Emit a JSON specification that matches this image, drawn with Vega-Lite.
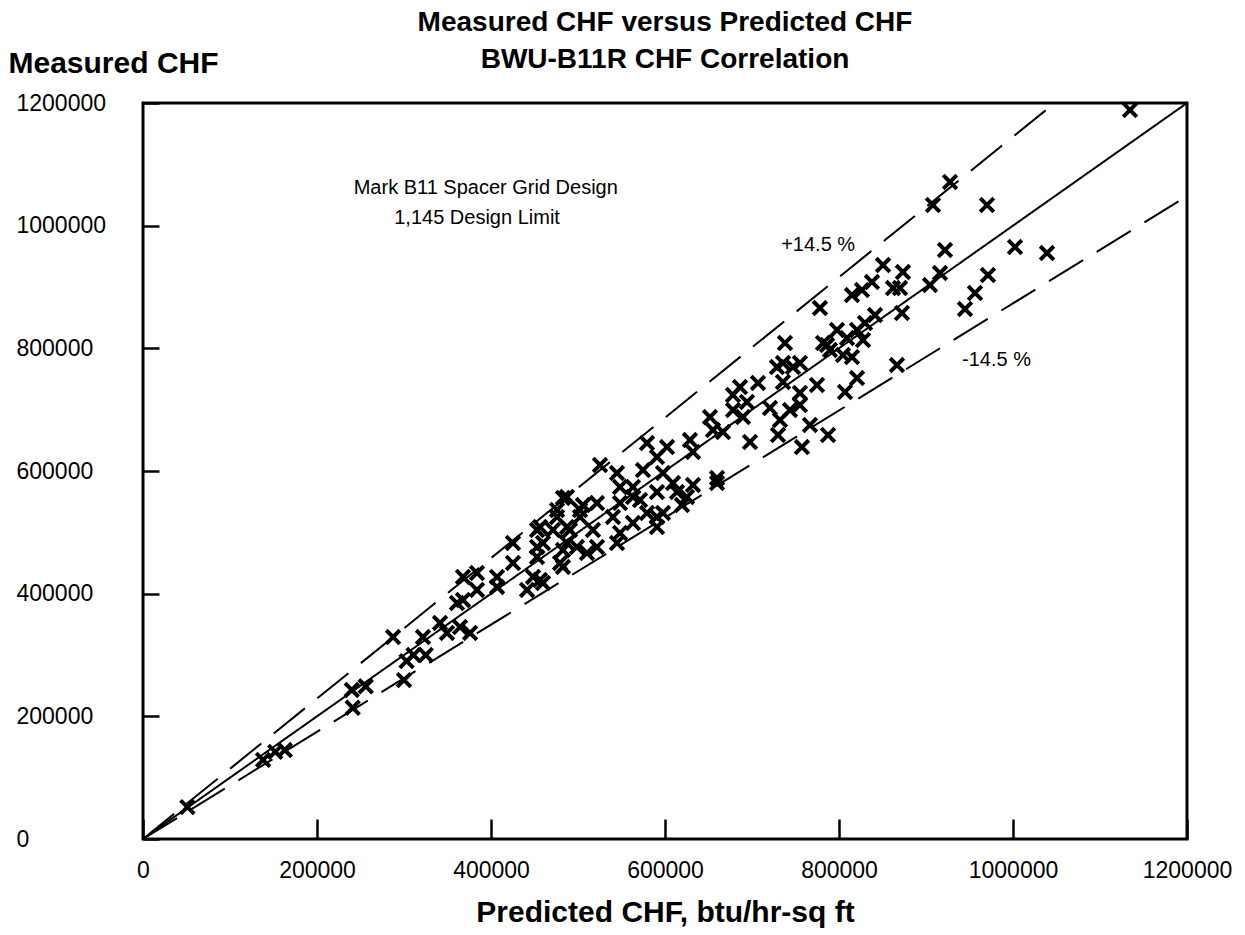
{
  "$schema": "https://vega.github.io/schema/vega-lite/v6.json",
  "width": 1044,
  "height": 736,
  "autosize": {"type": "none"},
  "padding": {"left": 143, "top": 103, "right": 58, "bottom": 96},
  "background": "white",
  "config": {
    "font": "Liberation Sans",
    "view": {"stroke": "black", "strokeWidth": 3},
    "axis": {"labelColor": "black", "titleColor": "black", "tickColor": "black", "grid": false, "domain": false, "labelFlush": false, "labelOverlap": false}
  },
  "title": {
    "text": ["Measured CHF versus Predicted CHF", "BWU-B11R CHF Correlation"],
    "fontSize": 28,
    "fontWeight": "bold",
    "font": "Liberation Sans",
    "color": "black",
    "lineHeight": 37,
    "anchor": "middle",
    "offset": -26
  },
  "layer": [
    {
      "data": {"values": [
        {"line": "1:1", "x": 0, "y": 0},
        {"line": "1:1", "x": 1200000, "y": 1200000},
        {"line": "+14.5%", "x": 0, "y": 0},
        {"line": "+14.5%", "x": 1048035, "y": 1200000},
        {"line": "-14.5%", "x": 0, "y": 0},
        {"line": "-14.5%", "x": 1200000, "y": 1048035}
      ]},
      "mark": {"type": "line", "color": "black", "strokeWidth": 2},
      "encoding": {
        "x": {"field": "x", "type": "quantitative", "scale": {"domain": [0, 1200000], "nice": false},
          "axis": {"title": "Predicted CHF, btu/hr-sq ft", "values": [0, 200000, 400000, 600000, 800000, 1000000, 1200000], "format": "d",
            "tickSize": -20, "tickWidth": 2.5, "labelFontSize": 23, "labelPadding": 58, "labelBaseline": "alphabetic",
            "titleFontSize": 30, "titleFontWeight": "bold", "titleY": 82, "titleBaseline": "alphabetic"}},
        "y": {"field": "y", "type": "quantitative", "scale": {"domain": [0, 1200000], "nice": false},
          "axis": {"title": "Measured CHF", "values": [0, 200000, 400000, 600000, 800000, 1000000, 1200000], "format": "d",
            "tickSize": -16, "tickWidth": 2.5, "labelFontSize": 23, "labelPadding": 143, "labelAlign": "left", "labelBaseline": "middle",
            "titleFontSize": 30, "titleFontWeight": "bold", "titleAngle": 0, "titleAlign": "left", "titleBaseline": "middle", "titleX": -135, "titleY": -40}},
        "detail": {"field": "line"},
        "strokeDash": {"field": "line", "type": "nominal", "scale": {"domain": ["1:1", "+14.5%", "-14.5%"], "range": [[1, 0], [40, 16], [40, 16]]}, "legend": null}
      }
    },
    {
      "data": {"values": [
        {"p": 1134500, "m": 1188600}, {"p": 927600, "m": 1071200}, {"p": 908000, "m": 1033700}, {"p": 970100, "m": 1033700},
        {"p": 921800, "m": 960300}, {"p": 1002300, "m": 965200}, {"p": 1039100, "m": 955400}, {"p": 778100, "m": 865700},
        {"p": 814900, "m": 886900}, {"p": 826400, "m": 895100}, {"p": 837900, "m": 908100}, {"p": 850600, "m": 935800},
        {"p": 873500, "m": 924400}, {"p": 862100, "m": 898300}, {"p": 870100, "m": 898300}, {"p": 916100, "m": 922800},
        {"p": 904600, "m": 903200}, {"p": 971200, "m": 919500}, {"p": 956300, "m": 890200}, {"p": 944800, "m": 864100},
        {"p": 872400, "m": 857600}, {"p": 841400, "m": 854300}, {"p": 829900, "m": 841300}, {"p": 820700, "m": 829900},
        {"p": 797700, "m": 829900}, {"p": 809200, "m": 816800}, {"p": 786200, "m": 805400}, {"p": 814900, "m": 785800},
        {"p": 737900, "m": 808700}, {"p": 866600, "m": 772800}, {"p": 820700, "m": 751600}, {"p": 806900, "m": 728800},
        {"p": 766600, "m": 675000}, {"p": 728700, "m": 769500}, {"p": 747100, "m": 769500}, {"p": 686200, "m": 736900},
        {"p": 706900, "m": 743500}, {"p": 735600, "m": 745100}, {"p": 774700, "m": 740200}, {"p": 755100, "m": 727200},
        {"p": 694200, "m": 712500}, {"p": 720700, "m": 702700}, {"p": 755100, "m": 707600}, {"p": 651700, "m": 688000},
        {"p": 732200, "m": 683100}, {"p": 678200, "m": 699400},
        {"p": 781600, "m": 808700}, {"p": 827600, "m": 813600}, {"p": 735600, "m": 776100}, {"p": 755100, "m": 776100},
        {"p": 789600, "m": 797300}, {"p": 804600, "m": 789100}, {"p": 678100, "m": 723900}, {"p": 743700, "m": 699400},
        {"p": 666700, "m": 663600}, {"p": 689600, "m": 688000}, {"p": 697700, "m": 647300}, {"p": 729900, "m": 658700},
        {"p": 787400, "m": 658700}, {"p": 757400, "m": 639100}, {"p": 628700, "m": 650500}, {"p": 632200, "m": 631000},
        {"p": 579300, "m": 645600}, {"p": 602300, "m": 639100}, {"p": 525300, "m": 609800}, {"p": 590800, "m": 622800},
        {"p": 544800, "m": 596700}, {"p": 574700, "m": 601600}, {"p": 597700, "m": 596700}, {"p": 563200, "m": 573900},
        {"p": 548300, "m": 573900}, {"p": 590800, "m": 565700}, {"p": 613800, "m": 565700}, {"p": 632200, "m": 577200},
        {"p": 659800, "m": 580400}, {"p": 619500, "m": 544500}, {"p": 597700, "m": 531500}, {"p": 571300, "m": 552700},
        {"p": 548300, "m": 547800}, {"p": 540200, "m": 525000}, {"p": 482700, "m": 556000}, {"p": 505700, "m": 544500},
        {"p": 521800, "m": 547800}, {"p": 502300, "m": 525000}, {"p": 475900, "m": 525000}, {"p": 490800, "m": 503800},
        {"p": 517200, "m": 503800}, {"p": 456300, "m": 508700}, {"p": 459800, "m": 482600}, {"p": 487300, "m": 482600},
        {"p": 521800, "m": 476100}, {"p": 479300, "m": 450000}, {"p": 456300, "m": 422300}, {"p": 548300, "m": 498900},
        {"p": 590800, "m": 525000},
        {"p": 655200, "m": 666800}, {"p": 659800, "m": 588600}, {"p": 563200, "m": 557600}, {"p": 609200, "m": 580400},
        {"p": 625300, "m": 557600}, {"p": 579300, "m": 531500}, {"p": 590800, "m": 508700}, {"p": 563200, "m": 515200},
        {"p": 502300, "m": 536400}, {"p": 487300, "m": 557600}, {"p": 475900, "m": 536400}, {"p": 487300, "m": 508700},
        {"p": 471300, "m": 503800}, {"p": 498800, "m": 476100}, {"p": 482700, "m": 471200}, {"p": 510300, "m": 466300},
        {"p": 482700, "m": 443500}, {"p": 452900, "m": 503800}, {"p": 452900, "m": 476100}, {"p": 425300, "m": 482600},
        {"p": 452900, "m": 459800}, {"p": 448300, "m": 427200}, {"p": 425300, "m": 450000}, {"p": 406900, "m": 427200},
        {"p": 383900, "m": 433700}, {"p": 383900, "m": 406000}, {"p": 367800, "m": 427200}, {"p": 367800, "m": 389700},
        {"p": 406900, "m": 410900}, {"p": 360900, "m": 384800}, {"p": 341400, "m": 352200}, {"p": 321800, "m": 329300},
        {"p": 364400, "m": 345600}, {"p": 349400, "m": 335900}, {"p": 375900, "m": 335900}, {"p": 287400, "m": 329300},
        {"p": 544800, "m": 482600}, {"p": 441400, "m": 406000}, {"p": 459800, "m": 417400},
        {"p": 240000, "m": 243000}, {"p": 256000, "m": 249000}, {"p": 241000, "m": 214000}, {"p": 300000, "m": 259000},
        {"p": 303000, "m": 290000}, {"p": 311000, "m": 300000}, {"p": 325000, "m": 300000}, {"p": 163000, "m": 145000},
        {"p": 138000, "m": 129000}, {"p": 152000, "m": 142000}, {"p": 51000, "m": 52000}
      ]},
      "mark": {"type": "point", "shape": "M -1 -1 L 1 1 M 1 -1 L -1 1", "size": 185, "filled": false, "stroke": "black", "strokeWidth": 4, "opacity": 1},
      "encoding": {
        "x": {"field": "p", "type": "quantitative"},
        "y": {"field": "m", "type": "quantitative"}
      }
    },
    {
      "data": {"values": [
        {"label": "Mark B11 Spacer Grid Design", "x": 394000, "y": 1061000},
        {"label": "1,145 Design Limit", "x": 384000, "y": 1012000},
        {"label": "+14.5 %", "x": 776000, "y": 968000},
        {"label": "-14.5 %", "x": 981000, "y": 781000}
      ]},
      "mark": {"type": "text", "fontSize": 20, "align": "center", "baseline": "middle", "color": "black", "font": "Liberation Sans"},
      "encoding": {
        "x": {"field": "x", "type": "quantitative"},
        "y": {"field": "y", "type": "quantitative"},
        "text": {"field": "label"}
      }
    }
  ]
}
